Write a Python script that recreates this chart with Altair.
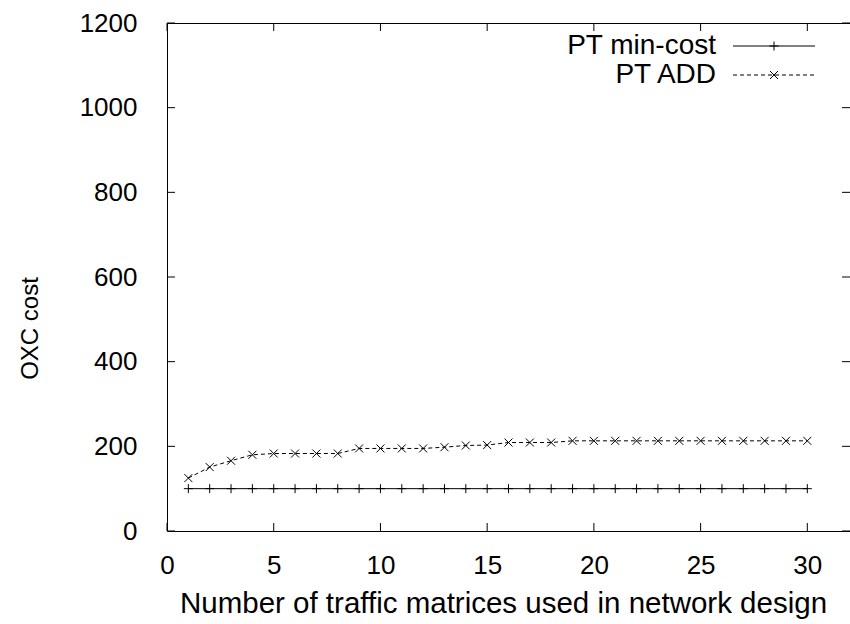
import altair as alt
import pandas as pd

# ---- data ----
n_matrices = list(range(1, 31))
pt_min_cost = [100, 100, 100, 100, 100, 100, 100, 100, 100, 100,
               100, 100, 100, 100, 100, 100, 100, 100, 100, 100,
               100, 100, 100, 100, 100, 100, 100, 100, 100, 100]
pt_add = [125, 151, 166, 180, 183, 183, 183, 183, 195, 195,
          195, 195, 198, 202, 203, 209, 209, 209, 213, 213,
          213, 213, 213, 213, 213, 213, 213, 213, 213, 213]
x_ticks = [0, 5, 10, 15, 20, 25, 30]
y_ticks = [0, 200, 400, 600, 800, 1000, 1200]
series_names = ["PT min-cost", "PT ADD"]

W, H = 683, 508
FONT = "Liberation Sans"
FS_LAB = 26
FS_XT = 29.5
FS_LEG = 28
FS_YT = 24
TICK = 8

df_min = pd.DataFrame({"x": n_matrices, "y": pt_min_cost})
df_add = pd.DataFrame({"x": n_matrices, "y": pt_add})
df_xt = pd.DataFrame({"x": x_ticks})
df_yt = pd.DataFrame({"y": y_ticks})
one = pd.DataFrame({"a": [0]})

xscale = alt.Scale(domain=[0, 32], nice=False, zero=False)
yscale = alt.Scale(domain=[0, 1200], nice=False)

xaxis = alt.Axis(values=x_ticks, format="d", title="Number of traffic matrices used in network design",
                 grid=False, domain=False, ticks=False, tickSize=0,
                 labelOverlap=False, labelFlush=False, labelBound=False,
                 labelPadding=42, labelBaseline="alphabetic",
                 titleX=336, titleAlign="center",
                 titleY=81, titleBaseline="alphabetic", titleFontSize=FS_XT)
yaxis = alt.Axis(values=y_ticks, format="d", title="OXC cost", grid=False, domain=False,
                 ticks=False, tickSize=0, labelPadding=30,
                 labelOverlap=False, labelFlush=False, labelBound=False,
                 titleX=-137, titleY=305, titleAlign="center", titleBaseline="middle",
                 titleFontSize=FS_YT)

X = alt.X("x:Q", scale=xscale, axis=xaxis)
Y = alt.Y("y:Q", scale=yscale, axis=yaxis)

plus_path = "M-1,0L1,0M0,-1L0,1"
cross_path = "M-1,-1L1,1M-1,1L1,-1"

line_min = alt.Chart(df_min).mark_line(color="black", strokeWidth=1).encode(x=X, y=Y)
pts_min = alt.Chart(df_min).mark_point(shape=plus_path, size=81, filled=False,
                                       color="black", strokeWidth=1, opacity=1).encode(x=X, y=Y)
line_add = alt.Chart(df_add).mark_line(color="black", strokeWidth=1,
                                       strokeDash=[4, 3]).encode(x=X, y=Y)
pts_add = alt.Chart(df_add).mark_point(shape=cross_path, size=64, filled=False,
                                       color="black", strokeWidth=1, opacity=1).encode(x=X, y=Y)

# inward ticks on all four sides
tick_bottom = alt.Chart(df_xt).mark_rule(color="black", strokeWidth=1).encode(
    x=X, y=alt.value(H - TICK), y2=alt.value(H))
tick_top = alt.Chart(df_xt).mark_rule(color="black", strokeWidth=1).encode(
    x=X, y=alt.value(0), y2=alt.value(TICK))
tick_left = alt.Chart(df_yt).mark_rule(color="black", strokeWidth=1).encode(
    y=Y, x=alt.value(0), x2=alt.value(TICK))
tick_right = alt.Chart(df_yt).mark_rule(color="black", strokeWidth=1).encode(
    y=Y, x=alt.value(W - TICK), x2=alt.value(W))

# legend (top right, inside)
LX_TEXT, LX0, LX1, LXM = 549, 566, 648, 607
LY1, LY2 = 23, 52
leg_t1 = alt.Chart(one).mark_text(align="right", baseline="middle", font=FONT, fontSize=FS_LEG,
                                  color="black", text=series_names[0]).encode(
    x=alt.value(LX_TEXT), y=alt.value(LY1))
leg_t2 = alt.Chart(one).mark_text(align="right", baseline="middle", font=FONT, fontSize=FS_LEG,
                                  color="black", text=series_names[1]).encode(
    x=alt.value(LX_TEXT), y=alt.value(LY2))
leg_l1 = alt.Chart(one).mark_rule(color="black", strokeWidth=1).encode(
    x=alt.value(LX0), x2=alt.value(LX1), y=alt.value(LY1))
leg_l2 = alt.Chart(one).mark_rule(color="black", strokeWidth=1, strokeDash=[4, 3]).encode(
    x=alt.value(LX0), x2=alt.value(LX1), y=alt.value(LY2))
leg_p1 = alt.Chart(one).mark_point(shape=plus_path, size=81, filled=False, color="black",
                                   strokeWidth=1, opacity=1).encode(
    x=alt.value(LXM), y=alt.value(LY1))
leg_p2 = alt.Chart(one).mark_point(shape=cross_path, size=64, filled=False, color="black",
                                   strokeWidth=1, opacity=1).encode(
    x=alt.value(LXM), y=alt.value(LY2))

chart = alt.layer(
    line_min, pts_min, line_add, pts_add,
    tick_bottom, tick_top, tick_left, tick_right,
    leg_t1, leg_t2, leg_l1, leg_l2, leg_p1, leg_p2,
).properties(
    width=W, height=H,
    autosize=alt.AutoSizeParams(type="none"),
    padding={"left": 167, "top": 23, "right": 0, "bottom": 93},
    background="white",
).configure_view(
    stroke="black", strokeWidth=1, fill="white"
).configure_axis(
    labelFont=FONT, labelFontSize=FS_LAB, labelColor="black",
    titleFont=FONT, titleColor="black", titleFontWeight="normal",
)

chart.save("out.html", embed_options={"renderer": "svg", "actions": False})
